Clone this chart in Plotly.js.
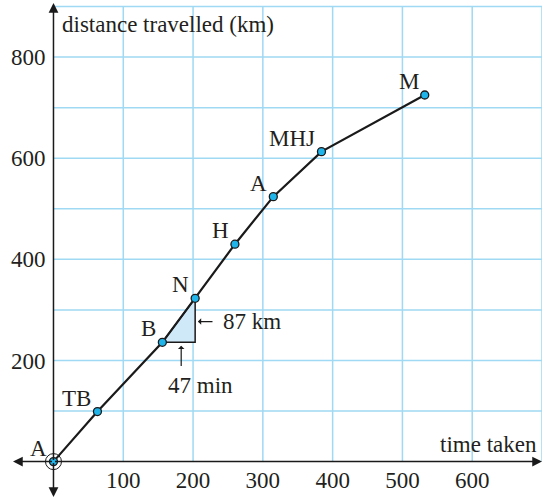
<!DOCTYPE html>
<html><head><meta charset="utf-8">
<script src="https://cdn.plot.ly/plotly-3.0.1.min.js"></script>
<style>html,body{margin:0;padding:0;background:#fff}</style>
</head><body><div id="chart" style="width:544px;height:500px"></div>
<script>
// Data
const stopNames = ['A','TB','B','N','H','A','MHJ','M'];
const timeTaken = [0, 63, 156, 203, 260, 315, 384, 532];
const distance  = [0, 99, 236, 323, 430, 524, 613, 725];
const xTicks = [100, 200, 300, 400, 500, 600];
const yTicks = [200, 400, 600, 800];
const gridX = [100, 200, 300, 400, 500, 600, 700];
const gridY = [100, 200, 300, 400, 500, 600, 700, 800, 900];
const triTime = [156, 203, 203, 156];
const triDist = [236, 323, 236, 236];
const riseText = '87 km';
const runText = '47 min';

const FONT = '"Liberation Serif", "Times New Roman", serif';
const FS = 23;
const INK = '#231f20';
const GRID = '#9fd9f3';
const shapes = [];
gridX.forEach(v => shapes.push({type:'line', layer:'below', x0:v, x1:v, y0:0, y1:900, line:{color:GRID, width:1.5}}));
gridY.forEach(v => shapes.push({type:'line', layer:'below', x0:0, x1:700, y0:v, y1:v, line:{color:GRID, width:1.5}}));

const traces = [
  {x: triTime, y: triDist, mode:'lines', fill:'toself', fillcolor:'#cfe9f8',
   line:{color:'#1a1a1a', width:1.5}, hoverinfo:'skip'},
  {x: timeTaken, y: distance, mode:'lines+markers',
   line:{color:'#1a1a1a', width:2.2},
   marker:{size:8, color:'#1fb4ea', line:{color:'#1a1a1a', width:1.3}}},
  {x:[timeTaken[0]], y:[distance[0]], mode:'markers',
   marker:{size:16, color:'rgba(0,0,0,0)', line:{color:'#1a1a1a', width:1}}}
];

const arrow = (x,y,ax,ay) => ({x, y, ax, ay, axref:'x', ayref:'y', xref:'x', yref:'y', text:'',
  showarrow:true, arrowhead:2, arrowsize:1.3, arrowwidth:1.5, arrowcolor:'#1a1a1a', standoff:0, startstandoff:0});
const txt = (x, y, text, xanchor) => ({x, y, xref:'x', yref:'y', text, showarrow:false, xanchor: xanchor || 'center',
  font:{family:FONT, size:FS, color:INK}});

const annotations = [
  arrow(700, 0, 0, 0), arrow(-58, 0, 0, 0), arrow(0, 907, 0, 0), arrow(0, -70, 0, 0),
  txt(9, 864, 'distance travelled (km)', 'left'),
  txt(695, 33, 'time taken', 'right'),
  Object.assign(arrow(207, 277, 230, 277), {arrowhead:1, arrowsize:0.9, arrowwidth:1.2}),
  txt(240, 277, riseText, 'left'),
  Object.assign(arrow(183, 229, 183, 186), {arrowhead:1, arrowsize:0.9, arrowwidth:1.2}),
  txt(210, 150, runText)
];
// point labels, placed up-left of each point
stopNames.forEach((name, i) => annotations.push({
  x: timeTaken[i], y: distance[i], xref:'x', yref:'y', text:name, showarrow:false,
  xanchor:'right', yanchor:'bottom', xshift:-4, yshift:-1,
  font:{family:FONT, size:FS, color:INK}}));

const layout = {
  width:544, height:500, margin:{l:13, r:2, t:3, b:3},
  paper_bgcolor:'#fff', plot_bgcolor:'#fff', showlegend:false,
  font:{family:FONT, size:FS, color:INK},
  xaxis:{range:[-58, 700], tickvals:xTicks, ticktext:xTicks.map(String), showgrid:false, zeroline:false,
    showline:false, anchor:'free', position:70/977, ticks:'', ticklen:0, ticklabelstandoff:2,
    tickfont:{family:FONT, size:FS, color:INK}},
  yaxis:{range:[-70, 907], tickvals:yTicks, ticktext:yTicks.map(String), showgrid:false, zeroline:false,
    showline:false, anchor:'free', position:58/758, ticks:'', ticklen:0, ticklabelstandoff:8,
    tickfont:{family:FONT, size:FS, color:INK}},
  shapes, annotations
};
Plotly.newPlot('chart', traces, layout, {staticPlot:true, displayModeBar:false});
</script></body></html>
